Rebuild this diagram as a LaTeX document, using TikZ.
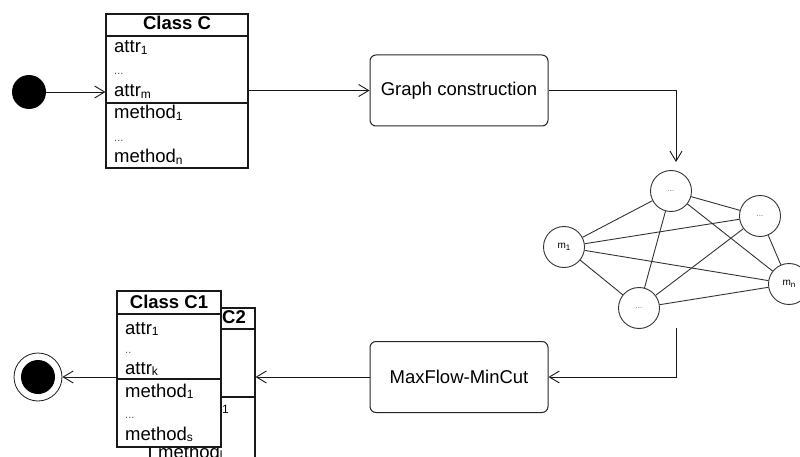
\documentclass[tikz,border=0pt]{standalone}
\usepackage{fontspec}
\setmainfont{Liberation Sans}
\usetikzlibrary{arrows.meta}
\newcommand{\lowsub}[1]{{\fontsize{12}{12}\selectfont\raisebox{-1.5pt}{#1}}}
\newcommand{\gsub}[1]{{\raisebox{-2.5pt}{\fontsize{8}{8}\selectfont #1}}}
\newcommand{\smalldots}[1]{{\fontsize{11}{11}\selectfont\color{black!70}#1}}
\begin{document}
\begin{tikzpicture}[x=1pt,y=-1pt,
  classbox/.style={draw=black!90, fill=white, line width=1.1pt, inner sep=0pt},
  rbox/.style={draw=black!85, rounded corners=6pt, line width=1pt, minimum width=178pt, minimum height=71pt, inner sep=0pt, font=\fontsize{18.5}{20}\selectfont},
  gnode/.style={circle, draw=black!80, line width=0.9pt, minimum size=41pt, inner sep=0pt, fill=white, font=\fontsize{10}{10}\selectfont},
  gdots/.style={gnode, font=\fontsize{8}{8}\selectfont\color{black!60}},
  gedge/.style={draw=black!80, line width=0.9pt},
  arr/.style={draw=black!90, line width=0.9pt, -{Straight Barb[length=10pt,width=12pt]}},
  txt/.style={anchor=base west, inner sep=0pt, font=\fontsize{18.5}{20}\selectfont},
  hdr/.style={anchor=base, inner sep=0pt, font=\bfseries\fontsize{18.5}{20}\selectfont},
  sep/.style={draw=black!90, line width=1.1pt}
]
\useasboundingbox (0,0) rectangle (800,457);
\clip (0,0) rectangle (800,457);

% start and end
\node[circle, fill=black, minimum size=34pt, inner sep=0pt] (start) at (29,92) {};
\node[circle, draw=black!90, line width=0.8pt, minimum size=48pt, inner sep=0pt] (endc) at (38,377) {};
\node[circle, fill=black, minimum size=34pt, inner sep=0pt] (endin) at (38,377) {};

% Class C
\node[classbox, minimum width=142pt, minimum height=154pt] (C) at (177,91) {};
\draw[sep] (106,36) -- (248,36);
\draw[sep] (106,103) -- (248,103);
\node[hdr] (Ch) at (177,30) {Class C};
\node[txt] (Ca1) at (114,53) {attr\lowsub{1}};
\node[txt] (Cad) at (114,75) {\smalldots{...}};
\node[txt] (Cam) at (114,97) {attr\lowsub{m}};
\node[txt] (Cm1) at (114,119) {method\lowsub{1}};
\node[txt] (Cmd) at (114,142) {\smalldots{...}};
\node[txt] (Cmn) at (114,163) {method\lowsub{n}};

% Class C2 (behind)
\node[classbox, minimum width=105pt, minimum height=155pt] (C2) at (202.5,385.5) {};
\draw[sep] (150,329) -- (255,329);
\draw[sep] (150,397) -- (255,397);
\node[anchor=base west, inner sep=0pt, font=\bfseries\fontsize{18.5}{20}\selectfont] (C2h) at (222,323) {C2};
\node[anchor=base west, inner sep=0pt, font=\fontsize{12}{12}\selectfont] (C2s) at (222,413) {1};
\node[txt] (C2ml) at (158,458) {method\lowsub{l}};

% Class C1 (front)
\node[classbox, minimum width=104pt, minimum height=156pt] (C1) at (169,369) {};
\draw[sep] (117,314) -- (221,314);
\draw[sep] (117,379) -- (221,379);
\node[hdr] (C1h) at (169,308) {Class C1};
\node[txt] (C1a1) at (125,334) {attr\lowsub{1}};
\node[txt] (C1ad) at (125,353) {\smalldots{..}};
\node[txt] (C1ak) at (125,374) {attr\lowsub{k}};
\node[txt] (C1m1) at (125,397) {method\lowsub{1}};
\node[txt] (C1md) at (125,418) {\smalldots{...}};
\node[txt] (C1ms) at (125,440) {method\lowsub{s}};

% rounded boxes
\node[rbox] (gc) at (459,90.5) {Graph construction};
\node[rbox] (mf) at (459,377) {MaxFlow-MinCut};

% graph
\node[gdots] (T) at (671,191) {...};
\node[gdots] (R) at (760,216) {...};
\node[gnode] (M1) at (564,247) {m\gsub{1}};
\node[gnode] (Mn) at (789,284) {m\gsub{n}};
\node[gdots] (B) at (639,308) {...};
\foreach \a/\b in {T/R,T/M1,T/B,T/Mn,R/M1,R/B,R/Mn,M1/Mn,M1/B,B/Mn}
  \draw[gedge] (\a) -- (\b);

\coordinate (intop) at (676,162);
\coordinate (outbot) at (676,328);

% connectors
\draw[arr] (start) -- (start -| C.west);
\draw[arr] (C.east |- gc.west) -- (gc.west);
\draw[arr] (gc.east) -| (intop);
\draw[arr] (outbot) |- (mf.east);
\draw[arr] (mf.west) -- (mf.west -| C2.east);
\draw[arr] (C1.west |- endc) -- (endc);
\end{tikzpicture}
\end{document}
